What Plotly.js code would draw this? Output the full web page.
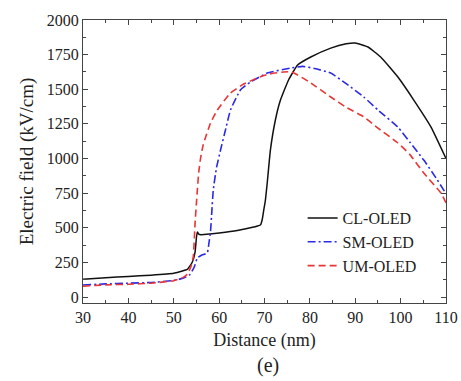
<!DOCTYPE html>
<html>
<head>
<meta charset="utf-8">
<script src="https://cdn.plot.ly/plotly-3.0.1.min.js"></script>
<style>html,body{margin:0;padding:0;background:#fff;}#chart{width:461px;height:381px;}</style>
</head>
<body>
<div id="chart"></div>
<script>
// CL-OLED (black solid)
const clX = [30, 35, 40, 45, 50, 51.5, 53, 54.1, 54.7, 55.0, 55.2, 55.5, 56, 58, 60, 64, 67.6, 69.1, 69.5, 69.8, 70.2, 70.6, 71.3, 72.4, 73.5, 75.3, 77.3, 80.2, 84.6, 88, 90, 92.8, 95.6, 99.4, 102.9, 106.7, 110];
const clY = [128, 140, 148, 158, 172, 185, 200, 253, 325, 430, 470, 455, 450, 455, 462, 480, 505, 520, 560, 620, 700, 823, 1061, 1278, 1420, 1567, 1675, 1733, 1797, 1828, 1834, 1805, 1733, 1588, 1422, 1227, 1000];
// SM-OLED (blue dash-dot)
const smX = [30, 35, 40, 45, 50, 52, 53.5, 54.5, 55.2, 56, 57, 57.4, 57.8, 58.1, 58.4, 58.7, 59.4, 60.3, 61.5, 62.5, 64.7, 66.9, 70.6, 75.7, 78.4, 81, 84.6, 88, 91.9, 95, 99.4, 102, 105.1, 108, 110];
const smY = [87, 95, 100, 105, 120, 135, 160, 215, 282, 300, 312, 318, 400, 470, 620, 770, 930, 1060, 1220, 1350, 1495, 1552, 1617, 1653, 1665, 1650, 1617, 1540, 1444, 1350, 1227, 1120, 989, 850, 745];
// UM-OLED (red dashed)
const umX = [30, 35, 40, 45, 50, 52, 53, 53.8, 54.3, 54.7, 55.0, 55.2, 55.5, 55.9, 56.5, 58.1, 59.6, 62.5, 65, 68.4, 71, 74.2, 76, 77.3, 80, 84.6, 88, 91.9, 95, 99.4, 102, 105.1, 108.9, 110];
const umY = [78, 88, 92, 100, 118, 140, 165, 220, 290, 534, 680, 772, 900, 1000, 1100, 1256, 1350, 1473, 1530, 1581, 1610, 1625, 1625, 1603, 1550, 1444, 1370, 1300, 1220, 1112, 1030, 895, 750, 680];

const seriesNames = ['CL-OLED', 'SM-OLED', 'UM-OLED'];

const font = {family: 'Liberation Serif', color: '#222'};

const traces = [
  {x: clX, y: clY, name: seriesNames[0], mode: 'lines', line: {color: '#111111', width: 1.5, dash: 'solid', shape: 'spline', smoothing: 0.4}},
  {x: smX, y: smY, name: seriesNames[1], mode: 'lines', line: {color: '#2a2ae6', width: 1.6, dash: '8px,3px,2px,3px', shape: 'spline', smoothing: 0.4}},
  {x: umX, y: umY, name: seriesNames[2], mode: 'lines', line: {color: '#e83535', width: 1.6, dash: '7px,4px', shape: 'spline', smoothing: 0.4}}
];

const axisCommon = {
  showline: true, linecolor: '#444', linewidth: 1, mirror: 'ticks',
  ticks: 'inside', ticklen: 5, tickcolor: '#444', tickwidth: 1,
  showgrid: false, zeroline: false,
  tickfont: Object.assign({size: 16}, font)
};

const layout = {
  width: 461, height: 381,
  font: font,
  margin: {l: 83, r: 15, t: 20, b: 78},
  paper_bgcolor: '#fff', plot_bgcolor: '#fff',
  showlegend: true,
  legend: {x: 0.605, y: 0.36, xanchor: 'left', yanchor: 'top', bgcolor: 'rgba(0,0,0,0)', borderwidth: 0,
           font: Object.assign({size: 16}, font), tracegroupgap: 0, itemwidth: 30},
  xaxis: Object.assign({}, axisCommon, {
    range: [30, 110], dtick: 10, tick0: 30,
    minor: {dtick: 5, ticks: 'inside', ticklen: 3, tickcolor: '#444'},
    title: {text: 'Distance (nm)', font: Object.assign({size: 18}, font), standoff: 8}
  }),
  yaxis: Object.assign({}, axisCommon, {
    range: [-43, 2000], dtick: 250, tick0: 0,
    minor: {dtick: 125, ticks: 'inside', ticklen: 3, tickcolor: '#444'},
    title: {text: 'Electric field (kV/cm)', font: Object.assign({size: 19}, font), standoff: 8}
  }),
  annotations: [
    {text: '(e)', xref: 'paper', yref: 'paper', x: 0.51, y: -0.22, yanchor: 'middle', showarrow: false,
     font: Object.assign({size: 20}, font)}
  ]
};

Plotly.newPlot('chart', traces, layout, {displayModeBar: false, staticPlot: true});
</script>
</body>
</html>
